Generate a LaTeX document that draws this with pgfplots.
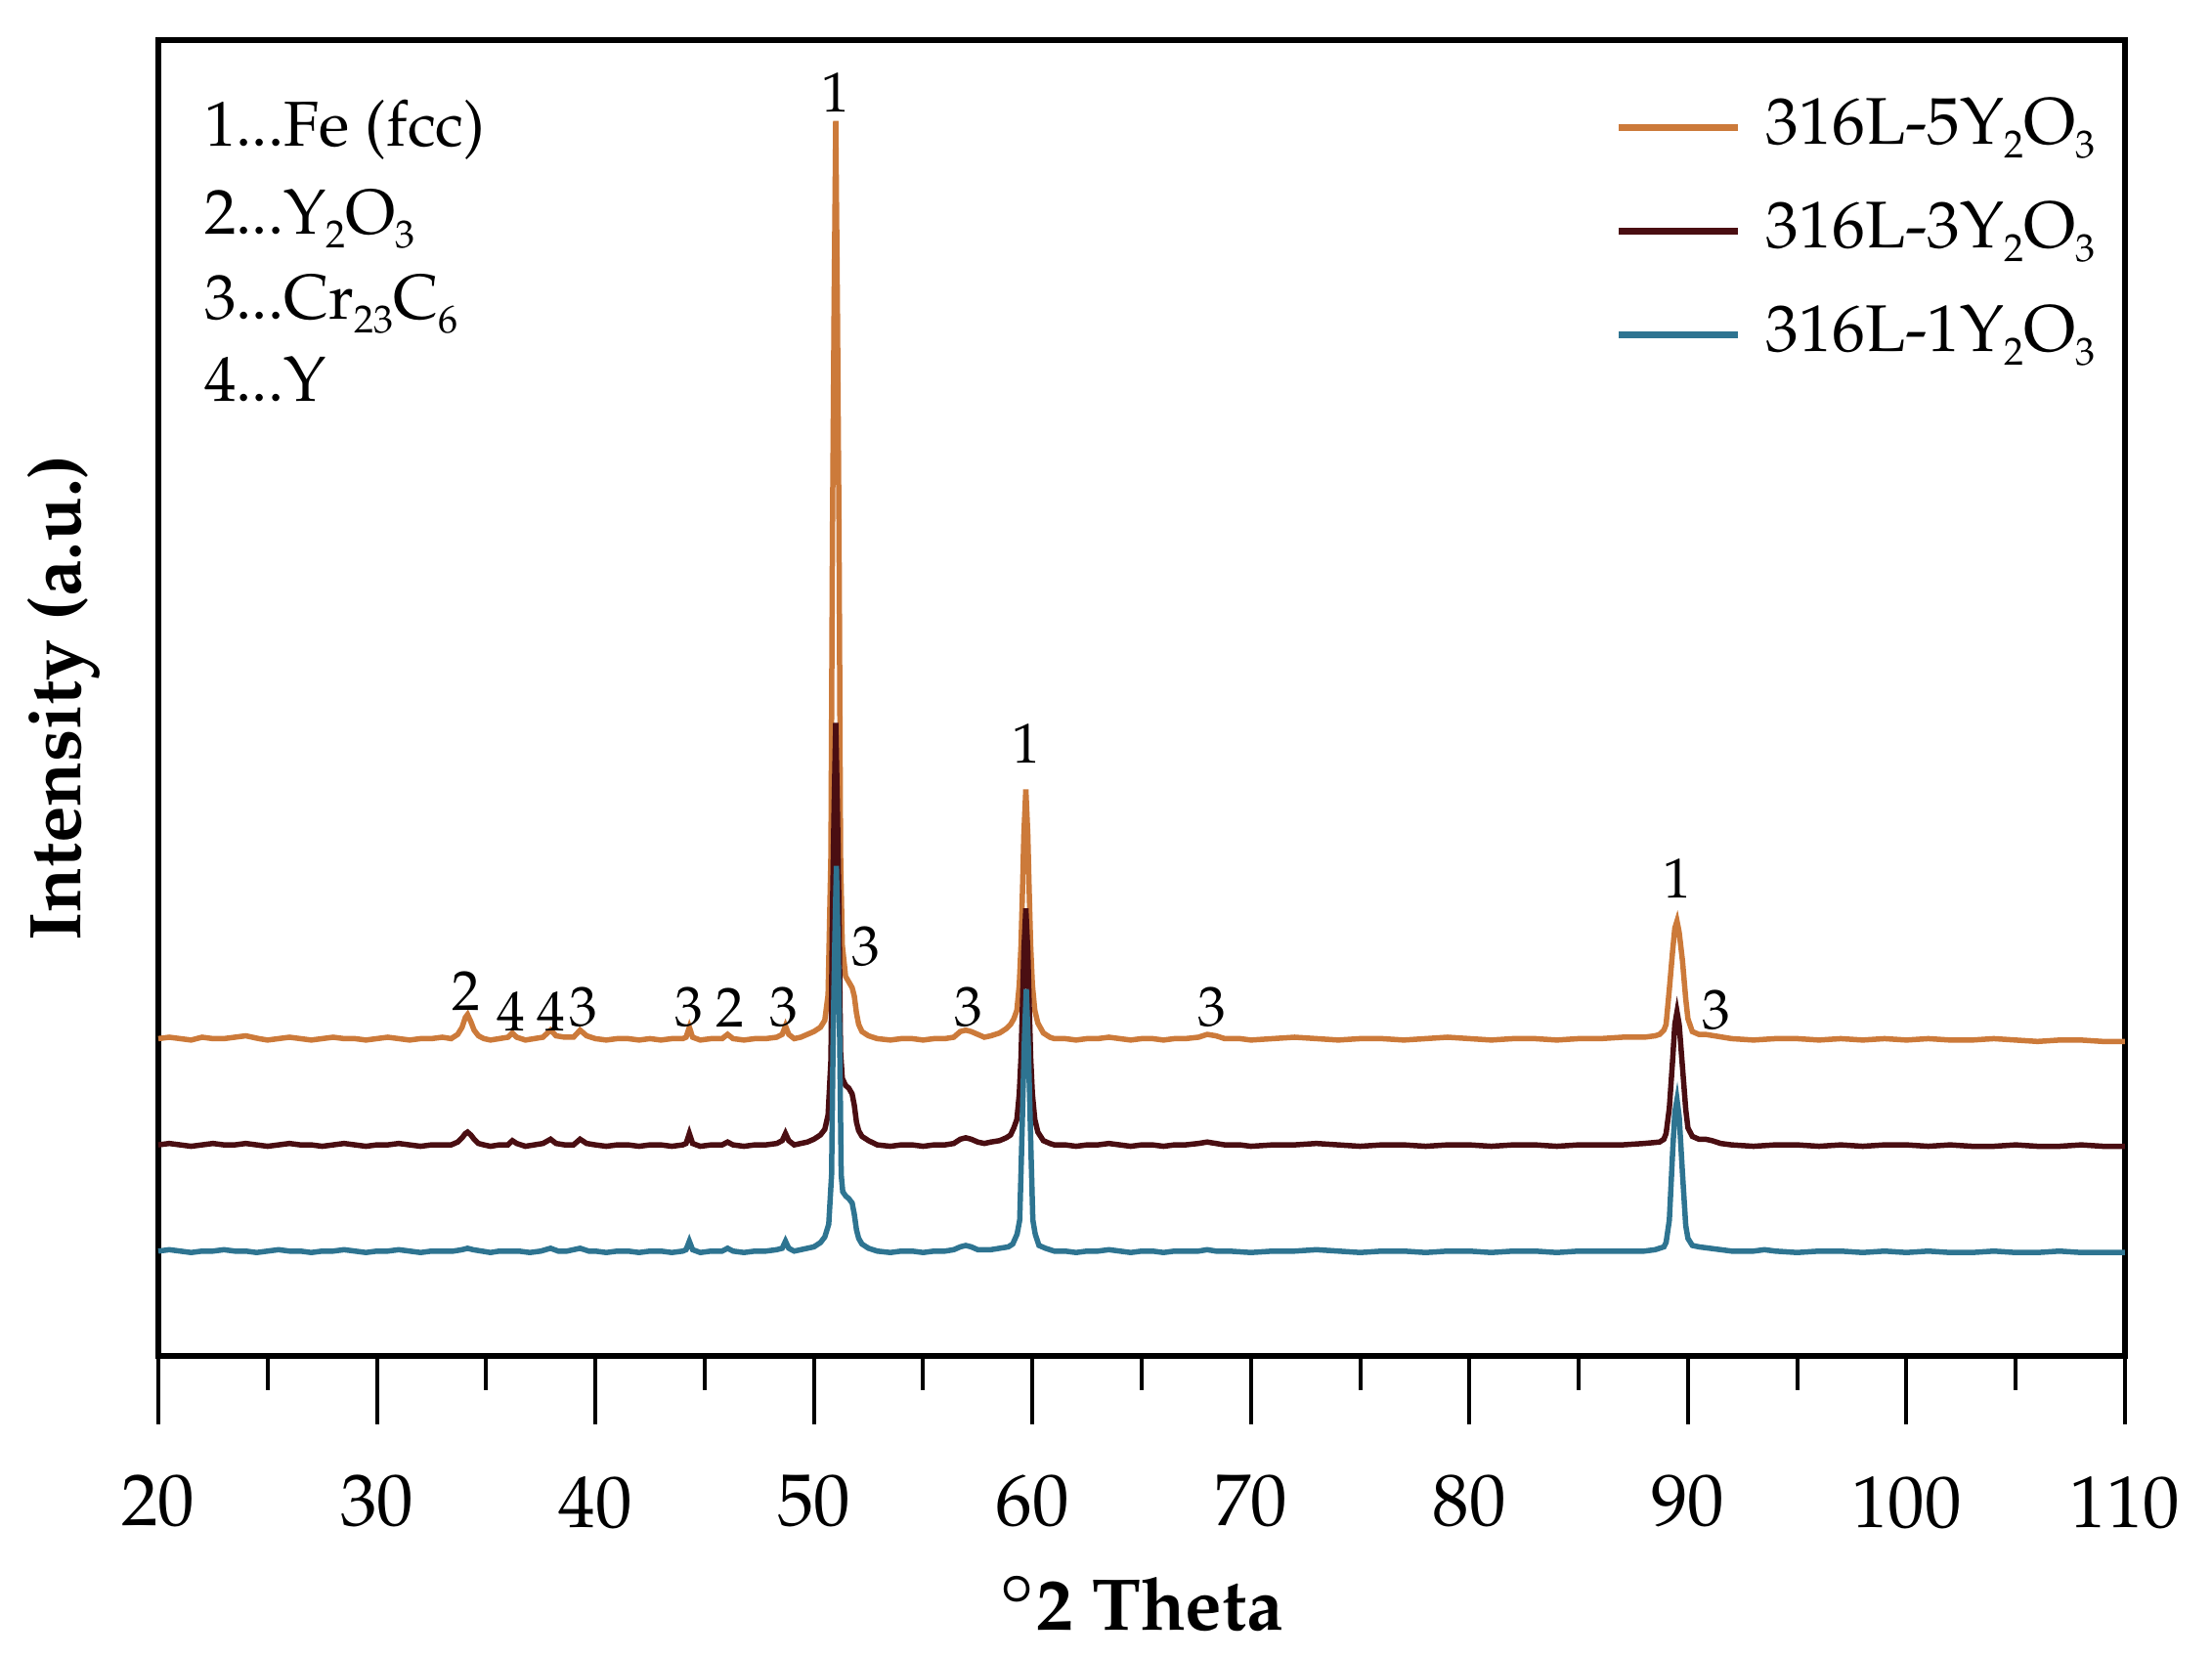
\documentclass[border=0pt]{standalone}
\usepackage[T1]{fontenc}
\usepackage{mathpazo}
\usepackage{pgfplots}
\pgfplotsset{compat=1.18}
\definecolor{xrdorange}{RGB}{204,122,58}
\definecolor{xrdmaroon}{RGB}{74,14,18}
\definecolor{xrdblue}{RGB}{46,116,145}
% small lowered subscript, like the chemical formulas in the source
\newcommand{\sub}[1]{\raisebox{-0.45ex}{\fontsize{8}{8}\selectfont #1}}
\begin{document}
\begin{tikzpicture}
\useasboundingbox (0,0) rectangle (452.6pt,339.4pt);
\begin{axis}[
  at={(32.4pt,62pt)}, anchor=south west,
  scale only axis, width=402.4pt, height=269.2pt,
  xmin=20, xmax=110, ymin=0, ymax=929,
  xtick distance=10, minor x tick num=1,
  xtick pos=bottom, ytick=\empty,
  tick align=outside,
  major tick length=14pt, minor tick length=7pt,
  tick style={black, line width=0.8pt},
  axis line style={line width=1.2pt},
  ticklabel style={font=\fontsize{15}{18}\selectfont},
  xticklabel style={yshift=-7pt},
  xlabel={$^{\circ}$2 Theta},
  xlabel style={font=\fontsize{15}{18}\selectfont\bfseries\boldmath, at={(axis description cs:0.5,-0.188)}, anchor=center},
  ylabel={Intensity (a.u.)},
  ylabel style={font=\fontsize{15}{18}\selectfont\bfseries, at={(axis description cs:-0.048,0.5)}, anchor=center},
  legend style={draw=none, fill=none, at={(0.7405,0.9587)}, anchor=north west,
    inner sep=0pt, row sep=8.2pt, column sep=5pt,
    font=\fontsize{13.5}{16}\selectfont,
    nodes={inner sep=0pt, text height=10pt, text depth=3pt}},
  legend cell align=left,
  legend image code/.code={\draw[#1, line width=1.4pt] (0pt,0pt) -- (24.4pt,0pt);},
  clip=false,
]

% 316L-5Y2O3, offset 224
\addplot[xrdorange, line width=1.1pt] coordinates {
(20.0,224) (20.5,225) (21.0,224) (21.5,223) (22.0,225) (22.5,224) (23.0,224) (23.5,225)
(24.0,226) (24.3,225) (24.6,224) (25.0,223) (25.5,224) (26.0,225) (26.5,224) (27.0,223)
(27.5,224) (28.0,225) (28.5,224) (29.0,224) (29.5,223) (30.0,224) (30.5,225) (31.0,224)
(31.5,223) (32.0,224) (32.5,224) (33.0,225) (33.4,224) (33.7,227) (33.9,232) (34.05,239)
(34.15,241) (34.3,236) (34.45,230) (34.65,226) (34.9,224) (35.2,223) (35.6,224) (36.0,225)
(36.2,228) (36.4,225) (36.8,223) (37.2,224) (37.6,225) (37.95,230) (38.2,226) (38.6,225)
(39.0,225) (39.3,230) (39.6,226) (40.0,224) (40.5,223) (41.0,224) (41.5,224) (42.0,223)
(42.5,224) (43.0,223) (43.5,224) (44.0,224) (44.15,225) (44.3,232) (44.45,225) (44.8,223)
(45.3,224) (45.8,224) (46.05,227) (46.3,224) (46.8,223) (47.3,224) (47.8,224) (48.3,225)
(48.55,227) (48.7,233) (48.85,227) (49.1,224) (49.4,225) (49.7,227) (50.0,229) (50.3,232)
(50.5,237) (50.65,255) (50.78,354) (50.85,580) (50.925,742) (51.0,872) (51.075,742) (51.15,580)
(51.22,354) (51.3,290) (51.45,268) (51.6,264) (51.75,260) (51.85,254)
(51.95,242) (52.05,234) (52.2,229) (52.5,226) (52.9,224) (53.5,223) (54.0,224) (54.5,224)
(55.0,223) (55.5,224) (56.0,224) (56.4,225) (56.7,229) (56.95,230) (57.2,229) (57.5,227)
(57.8,225) (58.1,226) (58.5,228) (58.8,231) (59.0,234) (59.15,238) (59.29,244) (59.4,262)
(59.48,290) (59.55,330) (59.61,368) (59.7,400) (59.79,368) (59.85,330) (59.92,290) (60.0,262)
(60.11,244) (60.25,235) (60.5,228) (60.8,225)
(61.0,224) (61.5,224) (62.0,223) (62.5,224) (63.0,224) (63.5,225) (64.0,224) (64.5,223)
(65.0,224) (65.5,224) (66.0,223) (66.5,224) (67.0,224) (67.6,225) (68.0,227) (68.4,226)
(68.8,224) (69.5,224) (70.0,223) (71.0,224) (72.0,225) (73.0,224) (74.0,223) (75.0,224)
(76.0,224) (77.0,223) (78.0,224) (79.0,225) (80.0,224) (81.0,223) (82.0,224) (83.0,224)
(84.0,223) (85.0,224) (86.0,224) (87.0,225) (88.0,225) (88.5,226) (88.7,227) (88.9,230)
(89.0,234) (89.15,259) (89.3,286) (89.4,302) (89.5,307) (89.6,299) (89.75,279) (89.9,252)
(90.0,238) (90.2,229) (90.5,227) (90.8,227) (91.2,226) (91.6,225) (92.0,224) (93.0,223)
(94.0,224) (95.0,224) (96.0,223) (97.0,224) (98.0,223) (99.0,224) (100.0,223) (101.0,224)
(102.0,223) (103.0,223) (104.0,224) (105.0,223) (106.0,222) (107.0,223) (108.0,223) (109.0,222)
(110.0,222)
};
\addlegendentry{316L-5Y\sub{2}O\sub{3}}

% 316L-3Y2O3, offset 149
\addplot[xrdmaroon, line width=1.1pt] coordinates {
(20.0,149) (20.5,150) (21.0,149) (21.5,148) (22.0,149) (22.5,150) (23.0,149) (23.5,149)
(24.0,150) (24.5,149) (25.0,148) (25.5,149) (26.0,150) (26.5,149) (27.0,149) (27.5,148)
(28.0,149) (28.5,150) (29.0,149) (29.5,148) (30.0,149) (30.5,149) (31.0,150) (31.5,149)
(32.0,148) (32.5,149) (33.0,149) (33.4,149) (33.7,151) (33.9,154) (34.05,157) (34.15,158)
(34.3,156) (34.45,153) (34.65,150) (34.9,149) (35.2,148) (35.6,149) (36.0,149) (36.2,152)
(36.4,150) (36.8,148) (37.2,149) (37.6,150) (37.95,153) (38.2,150) (38.6,149) (39.0,149)
(39.3,153) (39.6,150) (40.0,149) (40.5,148) (41.0,149) (41.5,149) (42.0,148) (42.5,149)
(43.0,149) (43.5,148) (44.0,149) (44.15,150) (44.3,157) (44.45,150) (44.8,148) (45.3,149)
(45.8,149) (46.05,151) (46.3,149) (46.8,148) (47.3,149) (47.8,149) (48.3,150) (48.55,152)
(48.7,157) (48.85,152) (49.1,149) (49.4,150) (49.7,151) (50.0,153) (50.3,156) (50.5,160)
(50.65,170) (50.78,209) (50.85,313) (50.925,387) (51.0,447) (51.075,387) (51.15,313) (51.22,215)
(51.3,196) (51.45,191) (51.6,189) (51.75,185) (51.85,177) (51.95,165)
(52.05,159) (52.2,155) (52.5,152) (52.9,149) (53.5,148) (54.0,149) (54.5,149) (55.0,148)
(55.5,149) (56.0,149) (56.4,150) (56.7,153) (56.95,154) (57.2,153) (57.5,151) (57.8,150)
(58.1,151) (58.5,152) (58.8,154) (59.0,156) (59.15,161) (59.29,167) (59.4,185) (59.48,211)
(59.55,250) (59.61,286) (59.7,316) (59.79,286) (59.85,250) (59.92,211) (60.0,185) (60.11,167)
(60.25,158) (60.5,152) (60.8,150) (61.0,149)
(61.5,149) (62.0,148) (62.5,149) (63.0,149) (63.5,150) (64.0,149) (64.5,148) (65.0,149)
(65.5,149) (66.0,148) (66.5,149) (67.0,149) (67.6,150) (68.0,151) (68.4,150) (68.8,149)
(69.5,149) (70.0,148) (71.0,149) (72.0,149) (73.0,150) (74.0,149) (75.0,148) (76.0,149)
(77.0,149) (78.0,148) (79.0,149) (80.0,149) (81.0,148) (82.0,149) (83.0,149) (84.0,148)
(85.0,149) (86.0,149) (87.0,149) (88.0,150) (88.7,151) (88.9,153) (89.0,157) (89.15,175)
(89.3,209) (89.4,234) (89.5,243) (89.6,234) (89.75,204) (89.9,174) (90.0,161) (90.2,155)
(90.5,153) (90.8,153) (91.1,152) (91.5,150) (92.0,149) (93.0,148) (94.0,149) (95.0,149)
(96.0,148) (97.0,149) (98.0,148) (99.0,149) (100.0,149) (101.0,148) (102.0,149) (103.0,148)
(104.0,148) (105.0,149) (106.0,148) (107.0,148) (108.0,149) (109.0,148) (110.0,148)
};
\addlegendentry{316L-3Y\sub{2}O\sub{3}}

% 316L-1Y2O3, offset 74
\addplot[xrdblue, line width=1.1pt] coordinates {
(20.0,74) (20.5,75) (21.0,74) (21.5,73) (22.0,74) (22.5,74) (23.0,75) (23.5,74)
(24.0,74) (24.5,73) (25.0,74) (25.5,75) (26.0,74) (26.5,74) (27.0,73) (27.5,74)
(28.0,74) (28.5,75) (29.0,74) (29.5,73) (30.0,74) (30.5,74) (31.0,75) (31.5,74)
(32.0,73) (32.5,74) (33.0,74) (33.5,74) (33.9,75) (34.15,76) (34.4,75) (34.8,74)
(35.2,73) (35.6,74) (36.0,74) (36.5,74) (37.0,73) (37.5,74) (37.95,76) (38.3,74)
(38.7,74) (39.3,76) (39.7,74) (40.0,74) (40.5,73) (41.0,74) (41.5,74) (42.0,73)
(42.5,74) (43.0,74) (43.5,73) (44.0,74) (44.15,75) (44.3,81) (44.45,75) (44.8,73)
(45.3,74) (45.8,74) (46.05,76) (46.3,74) (46.8,73) (47.3,74) (47.8,74) (48.3,75)
(48.55,76) (48.7,81) (48.85,76) (49.1,74) (49.4,75) (49.7,76) (50.0,77) (50.3,80)
(50.5,84) (50.68,93) (50.81,128) (50.88,224) (50.955,292) (51.03,346) (51.105,292) (51.18,224)
(51.25,128) (51.32,116) (51.45,113) (51.6,111) (51.75,108)
(51.85,100) (51.95,89) (52.05,83) (52.2,79) (52.5,76) (52.9,74) (53.5,73) (54.0,74)
(54.5,74) (55.0,73) (55.5,74) (56.0,74) (56.4,75) (56.7,77) (56.95,78) (57.2,77)
(57.5,75) (57.8,75) (58.1,75) (58.5,76) (58.9,77) (59.1,79) (59.3,86) (59.42,96)
(59.5,142) (59.57,185) (59.64,226) (59.72,259) (59.8,226) (59.87,185) (59.94,142) (60.02,96)
(60.13,86) (60.3,78) (60.6,76) (61.0,74) (61.5,74) (62.0,73) (62.5,74) (63.0,74) (63.5,75) (64.0,74)
(64.5,73) (65.0,74) (65.5,74) (66.0,73) (66.5,74) (67.0,74) (67.6,74) (68.0,75)
(68.4,74) (69.0,74) (70.0,73) (71.0,74) (72.0,74) (73.0,75) (74.0,74) (75.0,73)
(76.0,74) (77.0,74) (78.0,73) (79.0,74) (80.0,74) (81.0,73) (82.0,74) (83.0,74)
(84.0,73) (85.0,74) (86.0,74) (87.0,74) (88.0,74) (88.5,75) (88.9,77) (89.0,80)
(89.15,96) (89.3,144) (89.4,172) (89.5,181) (89.6,169) (89.75,129) (89.9,92) (90.0,83)
(90.2,78) (90.5,77) (91.0,76) (91.5,75) (92.0,74) (93.0,74) (93.5,75) (94.0,74)
(95.0,73) (96.0,74) (97.0,74) (98.0,73) (99.0,74) (100.0,73) (101.0,74) (102.0,73)
(103.0,73) (104.0,74) (105.0,73) (106.0,73) (107.0,74) (108.0,73) (109.0,73) (110.0,73)
};
\addlegendentry{316L-1Y\sub{2}O\sub{3}}

% phase key
\begin{scope}[every node/.style={anchor=base west, inner sep=0pt, font=\fontsize{13}{15}\selectfont}]
\node at (axis cs:22.06,854) {1...Fe (fcc)};
\node at (axis cs:22.06,792) {2...Y\sub{2}O\sub{3}};
\node at (axis cs:22.06,732) {3...Cr\sub{23}C\sub{6}};
\node at (axis cs:22.06,674) {4...Y};
\end{scope}

% peak labels
\begin{scope}[every node/.style={anchor=center, inner sep=0pt, font=\fontsize{11.5}{13}\selectfont}]
\node at (axis cs:51.0,892) {1};
\node at (axis cs:59.7,432) {1};
\node at (axis cs:89.5,337) {1};
\node at (axis cs:52.37,289) {3};
\node at (axis cs:34.07,258) {2};
\node at (axis cs:36.13,243) {4};
\node at (axis cs:37.98,243) {4};
\node at (axis cs:39.46,246) {3};
\node at (axis cs:44.3,246) {3};
\node at (axis cs:46.17,246) {2};
\node at (axis cs:48.63,246) {3};
\node at (axis cs:57.1,246) {3};
\node at (axis cs:68.2,246) {3};
\node at (axis cs:91.3,244) {3};
\end{scope}
\end{axis}
\end{tikzpicture}
\end{document}
